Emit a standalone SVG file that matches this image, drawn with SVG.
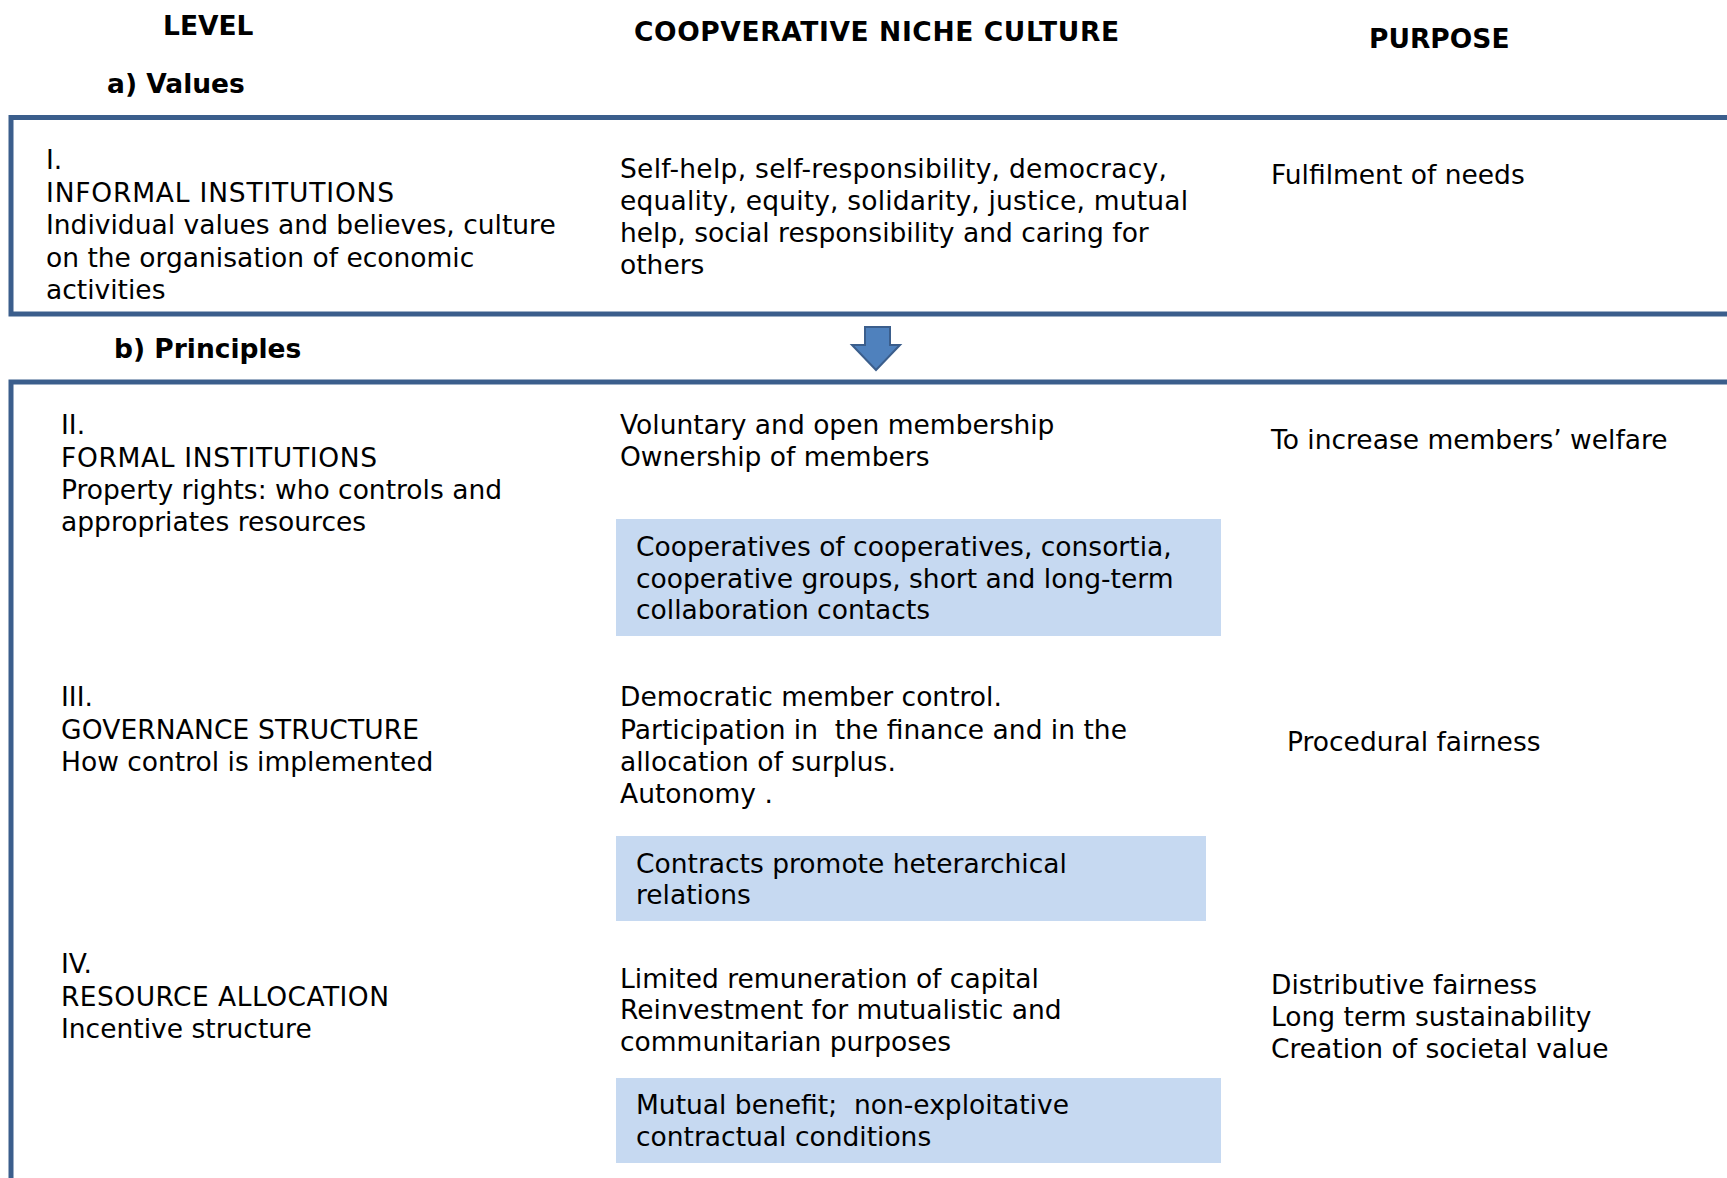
<svg xmlns="http://www.w3.org/2000/svg" width="1727" height="1178" viewBox="0 0 1727 1178">
<style>
text{font-family:"DejaVu Sans","Verdana",sans-serif;font-size:26.5px;fill:#000}
.h{font-weight:bold}
.frame{fill:none;stroke:#3B5E8C;stroke-width:5}
.hl{fill:#C6D9F1}
</style>
<rect width="1727" height="1178" fill="#fff"/>
<g id="headers">
<text class="h" x="163" y="35">LEVEL</text>
<text class="h" x="634" y="41" textLength="485" lengthAdjust="spacing">COOPVERATIVE NICHE CULTURE</text>
<text class="h" x="1369" y="48">PURPOSE</text>
<text class="h" x="107" y="93">a) Values</text>
<text class="h" x="114" y="358">b) Principles</text>
</g>
<g id="box-values">
<rect class="frame" x="11" y="117.5" width="1740" height="196.5"/>
<text x="46" y="169">I.</text>
<text x="46" y="202" textLength="348" lengthAdjust="spacing">INFORMAL INSTITUTIONS</text>
<text x="46" y="234">Individual values and believes, culture</text>
<text x="46" y="267">on the organisation of economic</text>
<text x="46" y="299">activities</text>
<text x="620" y="178" textLength="547" lengthAdjust="spacing">Self-help, self-responsibility, democracy,</text>
<text x="620" y="210" textLength="568" lengthAdjust="spacing">equality, equity, solidarity, justice, mutual</text>
<text x="620" y="242">help, social responsibility and caring for</text>
<text x="620" y="274">others</text>
<text x="1271" y="184">Fulfilment of needs</text>
</g>
<g id="connectors">
<path d="M865,327 H890 V345 H900 L876,370 L852,345 H865 Z" fill="#4F81BD" stroke="#3B5E8C" stroke-width="2"/>
</g>
<g id="box-principles">
<rect class="frame" x="11" y="382" width="1740" height="900"/>
</g>
<g id="level-II">
<text x="61" y="434">II.</text>
<text x="61" y="467" textLength="316" lengthAdjust="spacing">FORMAL INSTITUTIONS</text>
<text x="61" y="499">Property rights: who controls and</text>
<text x="61" y="531">appropriates resources</text>
<text x="620" y="434">Voluntary and open membership</text>
<text x="620" y="466">Ownership of members</text>
<rect class="hl" x="616" y="519" width="605" height="117"/>
<text x="636" y="556">Cooperatives of cooperatives, consortia,</text>
<text x="636" y="588">cooperative groups, short and long-term</text>
<text x="636" y="619">collaboration contacts</text>
<text x="1271" y="449">To increase members’ welfare</text>
</g>
<g id="level-III">
<text x="61" y="706">III.</text>
<text x="61" y="739" textLength="358" lengthAdjust="spacing">GOVERNANCE STRUCTURE</text>
<text x="61" y="771">How control is implemented</text>
<text x="620" y="706">Democratic member control.</text>
<text x="620" y="739" xml:space="preserve">Participation in  the finance and in the</text>
<text x="620" y="771">allocation of surplus.</text>
<text x="620" y="803">Autonomy .</text>
<rect class="hl" x="616" y="836" width="590" height="85"/>
<text x="636" y="873">Contracts promote heterarchical</text>
<text x="636" y="904">relations</text>
<text x="1287" y="751">Procedural fairness</text>
</g>
<g id="level-IV">
<text x="61" y="973">IV.</text>
<text x="61" y="1006" textLength="328" lengthAdjust="spacing">RESOURCE ALLOCATION</text>
<text x="61" y="1038">Incentive structure</text>
<text x="620" y="988">Limited remuneration of capital</text>
<text x="620" y="1019">Reinvestment for mutualistic and</text>
<text x="620" y="1051">communitarian purposes</text>
<rect class="hl" x="616" y="1078" width="605" height="85"/>
<text x="636" y="1114" xml:space="preserve">Mutual benefit;  non-exploitative</text>
<text x="636" y="1146">contractual conditions</text>
<text x="1271" y="994">Distributive fairness</text>
<text x="1271" y="1026">Long term sustainability</text>
<text x="1271" y="1058">Creation of societal value</text>
</g>
</svg>
